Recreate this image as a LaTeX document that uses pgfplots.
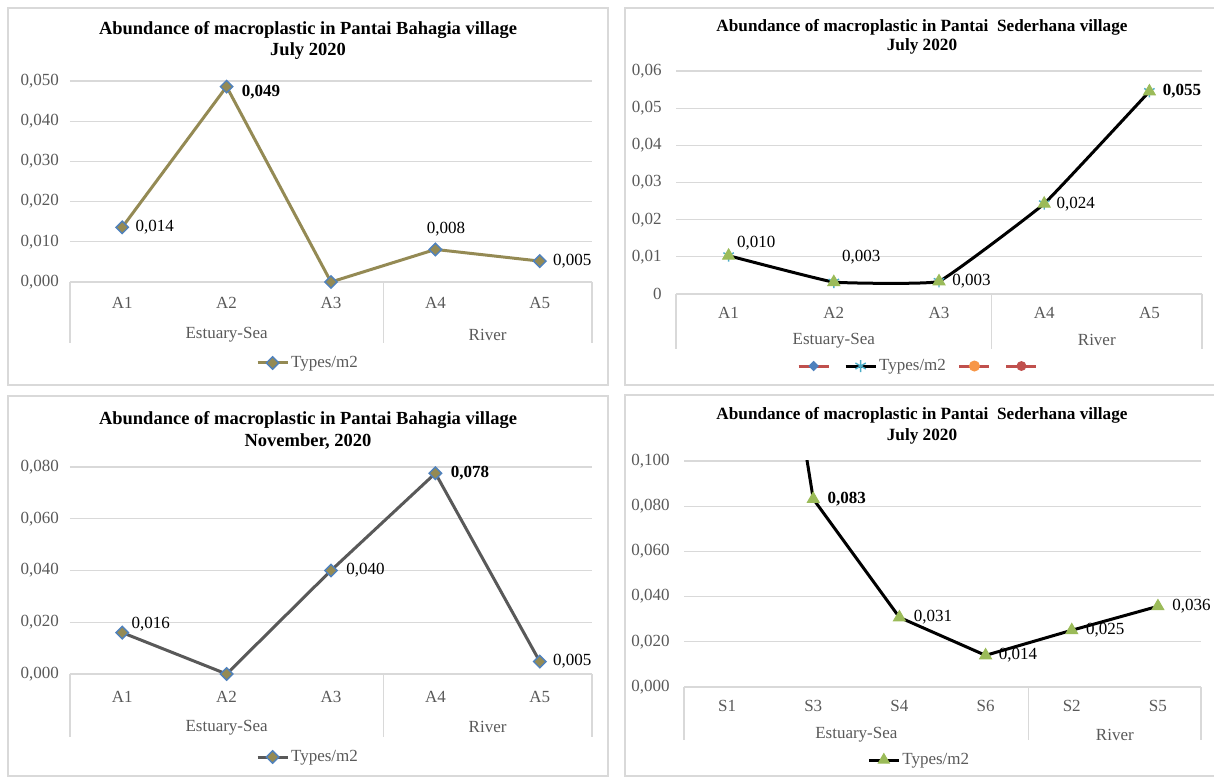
\documentclass[border=0pt]{standalone}
\usepackage{pgfplots}
\pgfplotsset{compat=1.18}
\usepackage{fontspec}
\setmainfont{Liberation Serif}

\definecolor{gridc}{HTML}{D9D9D9}
\definecolor{tickc}{HTML}{595959}
\definecolor{olive}{HTML}{948A54}
\definecolor{xlblue}{HTML}{4F81BD}
\definecolor{xlgreen}{HTML}{9BBB59}
\definecolor{xlcyan}{HTML}{4BACC6}
\definecolor{xlred}{HTML}{C0504D}
\definecolor{xlorange}{HTML}{F79646}

\newcommand\tfont{\fontsize{8.5}{10}\selectfont}

\pgfplotsset{
  panel/.style={
    scale only axis,
    axis line style={draw=none},
    major tick length=0pt,
    scaled y ticks=false,
    ymajorgrids=true,
    grid style={gridc, line width=0.6pt},
    font=\tfont,
    ticklabel style={text=tickc, font=\tfont},
    xtick={0,...,4}, xmin=-0.5, xmax=4.5,
    xticklabel style={anchor=center},
    legend columns=-1,
    legend style={draw=none, fill=none, anchor=center, inner sep=0pt,
      font=\tfont, text=tickc, nodes={inner sep=1pt}},
    legend image code/.code={\draw[mark repeat=2,mark phase=2,##1] plot coordinates {(0pt,0pt) (7.5pt,0pt) (15pt,0pt)};},
  },
  dmd/.style={mark=square*, mark size=2.2pt,
    mark options={rotate=45, draw=xlblue, fill=olive, line width=0.7pt}},
  labels/.style={
    draw=none, mark=none, forget plot,
    point meta=explicit symbolic,
    visualization depends on={value \thisrow{dx} \as \dx},
    visualization depends on={value \thisrow{dy} \as \dy},
    visualization depends on={value \thisrow{b} \as \lbf},
    nodes near coords={\ifnum\lbf=1 \bfseries\fi\pgfplotspointmeta},
    nodes near coords style={anchor=west, inner sep=0pt, xshift=\dx pt, yshift=\dy pt, text=black, font=\tfont},
  },
}

\begin{document}
\begin{tikzpicture}[x=1pt,y=1pt]
\useasboundingbox (0,0) rectangle (607,388);

% panel frames
\draw[gridc, line width=0.75pt] (4,195.5) rectangle (304,384);
\draw[gridc, line width=0.75pt] (312.5,195.5) rectangle (607.5,384);
\draw[gridc, line width=0.75pt] (4,0) rectangle (304,190);
\draw[gridc, line width=0.75pt] (312.5,0) rectangle (607.5,190.5);

% titles
\node[align=center, font=\fontsize{9.25}{10.5}\selectfont\bfseries] at (154,367.75)
  {Abundance of macroplastic in Pantai Bahagia village\\July 2020};
\node[align=center, font=\fontsize{8.6}{9.5}\selectfont\bfseries] at (461,369.75)
  {Abundance of macroplastic in Pantai\ \ Sederhana village\\July 2020};
\node[align=center, font=\fontsize{9.25}{11}\selectfont\bfseries] at (154,173)
  {Abundance of macroplastic in Pantai Bahagia village\\November, 2020};
\node[align=center, font=\fontsize{8.6}{10.5}\selectfont\bfseries] at (461,175.25)
  {Abundance of macroplastic in Pantai\ \ Sederhana village\\July 2020};

% ---- Pantai Bahagia, July 2020
\begin{axis}[panel, at={(35pt,247pt)}, anchor=south west, width=261pt, height=100.5pt,
  ymin=0, ymax=0.05, ytick={0,0.01,0.02,0.03,0.04,0.05},
  yticklabels={{0,000},{0,010},{0,020},{0,030},{0,040},{0,050}},
  yticklabel style={xshift=-2pt},
  xticklabels={A1,A2,A3,A4,A5}, xticklabel style={yshift=-10.5pt},
  legend style={at={(0.456,-0.403)}},
  clip=false]
\addplot[olive, line width=1.5pt, dmd]
  coordinates {(0,0.0136) (1,0.0486) (2,0) (3,0.0081) (4,0.0052)};
\addlegendentry{Types/m2}
\addplot[labels] table[meta=lab] {
x y lab dx dy b
0 0.0136 0,014 6.5 0 0
1 0.0486 0,049 7.5 -3 1
3 0.0081 0,008 -4.5 10 0
4 0.0052 0,005 6.5 0 0
};
\draw[gridc, line width=0.6pt] (axis cs:-0.5,0) -- ++(0pt,-30.5pt)
  (axis cs:2.5,0) -- ++(0pt,-30.5pt) (axis cs:4.5,0) -- ++(0pt,-30.5pt);
\node[text=tickc] at ([yshift=-26.3pt]axis cs:1,0) {Estuary-Sea};
\node[text=tickc] at ([yshift=-26.3pt]axis cs:3.5,0) {River};
\end{axis}

% ---- Pantai Sederhana, July 2020
\begin{axis}[panel, at={(338pt,241pt)}, anchor=south west, width=263pt, height=111.5pt,
  ymin=0, ymax=0.06, ytick={0,0.01,0.02,0.03,0.04,0.05,0.06},
  yticklabels={0,{0,01},{0,02},{0,03},{0,04},{0,05},{0,06}},
  yticklabel style={xshift=-3.6pt},
  xticklabels={A1,A2,A3,A4,A5}, xticklabel style={yshift=-9.5pt},
  legend style={at={(0.463,-0.323)}, /tikz/every even column/.append style={column sep=5pt}},
  clip=false]
\addlegendimage{xlred, line width=1.5pt, mark=square*, mark size=1.6pt,
  mark options={rotate=45, draw=xlblue, fill=xlblue, line width=0.5pt}}
\addlegendentry{}
\addplot[black, line width=1.5pt, smooth, tension=0.15, mark=asterisk, mark size=3pt,
  mark options={xlcyan, line width=0.7pt}]
  coordinates {(0,0.0103) (1,0.0032) (2,0.0034) (3,0.0243) (4,0.0545)};
\addlegendentry{Types/m2}
\addplot[forget plot, only marks, mark=triangle*, mark size=3.4pt,
  mark options={draw=xlgreen, fill=xlgreen, line width=0.5pt}]
  coordinates {(0,0.0103) (1,0.0032) (2,0.0034) (3,0.0243) (4,0.0545)};
\addlegendimage{xlred, line width=1.5pt, mark=*, mark size=2.5pt,
  mark options={draw=xlorange, fill=xlorange, line width=0.5pt}}
\addlegendentry{}
\addlegendimage{xlred, line width=1.5pt, mark=*, mark size=2.2pt,
  mark options={draw=xlred, fill=xlred, line width=0.5pt}}
\addlegendentry{}
\addplot[labels] table[meta=lab] {
x y lab dx dy b
0 0.0103 0,010 4 6.5 0
1 0.0032 0,003 4 12.5 0
2 0.0034 0,003 6.5 0 0
3 0.0243 0,024 6 0 0
4 0.0545 0,055 6.5 0 1
};
\draw[gridc, line width=0.6pt] (axis cs:-0.5,0) -- ++(0pt,-27.5pt)
  (axis cs:2.5,0) -- ++(0pt,-27.5pt) (axis cs:4.5,0) -- ++(0pt,-27.5pt);
\node[text=tickc] at ([yshift=-23.2pt]axis cs:1,0) {Estuary-Sea};
\node[text=tickc] at ([yshift=-23.2pt]axis cs:3.5,0) {River};
\end{axis}

% ---- Pantai Bahagia, November 2020
\begin{axis}[panel, at={(35pt,51pt)}, anchor=south west, width=261pt, height=103.5pt,
  ymin=0, ymax=0.08, ytick={0,0.02,0.04,0.06,0.08},
  yticklabels={{0,000},{0,020},{0,040},{0,060},{0,080}},
  yticklabel style={xshift=-2pt},
  xticklabels={A1,A2,A3,A4,A5}, xticklabel style={yshift=-11.5pt},
  legend style={at={(0.456,-0.401)}},
  clip=false]
\addplot[tickc, line width=1.5pt, dmd]
  coordinates {(0,0.0160) (1,0) (2,0.0400) (3,0.0776) (4,0.0048)};
\addlegendentry{Types/m2}
\addplot[labels] table[meta=lab] {
x y lab dx dy b
0 0.0160 0,016 4.5 4 0
2 0.0400 0,040 7.5 0 0
3 0.0776 0,078 7.5 0 1
4 0.0048 0,005 6.5 0 0
};
\draw[gridc, line width=0.6pt] (axis cs:-0.5,0) -- ++(0pt,-31.5pt)
  (axis cs:2.5,0) -- ++(0pt,-31.5pt) (axis cs:4.5,0) -- ++(0pt,-31.5pt);
\node[text=tickc] at ([yshift=-26.7pt]axis cs:1,0) {Estuary-Sea};
\node[text=tickc] at ([yshift=-26.7pt]axis cs:3.5,0) {River};
\end{axis}

% ---- Pantai Sederhana, second panel (S stations)
\begin{axis}[panel, at={(342pt,44.5pt)}, anchor=south west, width=258.5pt, height=113pt,
  ymin=0, ymax=0.1, ytick={0,0.02,0.04,0.06,0.08,0.1},
  yticklabels={{0,000},{0,020},{0,040},{0,060},{0,080},{0,100}},
  yticklabel style={xshift=-3.6pt},
  xtick={0,...,5}, xmin=-0.5, xmax=5.5,
  xticklabels={S1,S3,S4,S6,S2,S5}, xticklabel style={yshift=-9.5pt},
  legend style={at={(0.455,-0.323)}},
  clip mode=individual]
\addplot[forget plot, black, line width=1.5pt, mark=triangle*, mark indices={1,2,3,4,5}, mark size=3.4pt,
  mark options={draw=xlgreen, fill=xlgreen, line width=0.5pt}]
  coordinates {(0,0.32) (1,0.0832) (2,0.0308) (3,0.0140) (4,0.0251) (5,0.0357)};
\addlegendimage{black, line width=1.5pt, mark=triangle*, mark size=3.2pt,
  mark options={draw=xlgreen, fill=xlgreen, line width=0.5pt}}
\addlegendentry{Types/m2}
\addplot[labels] table[meta=lab] {
x y lab dx dy b
1 0.0832 0,083 7 0 1
2 0.0308 0,031 7 0 0
3 0.0140 0,014 6.5 0 0
4 0.0251 0,025 7 0 0
5 0.0357 0,036 7 0 0
};
\draw[gridc, line width=0.6pt] (axis cs:-0.5,0) -- ++(0pt,-26.5pt)
  (axis cs:3.5,0) -- ++(0pt,-26.5pt) (axis cs:5.5,0) -- ++(0pt,-26.5pt);
\node[text=tickc] at ([yshift=-23.8pt]axis cs:1.5,0) {Estuary-Sea};
\node[text=tickc] at ([yshift=-23.8pt]axis cs:4.5,0) {River};
\end{axis}
\end{tikzpicture}
\end{document}
